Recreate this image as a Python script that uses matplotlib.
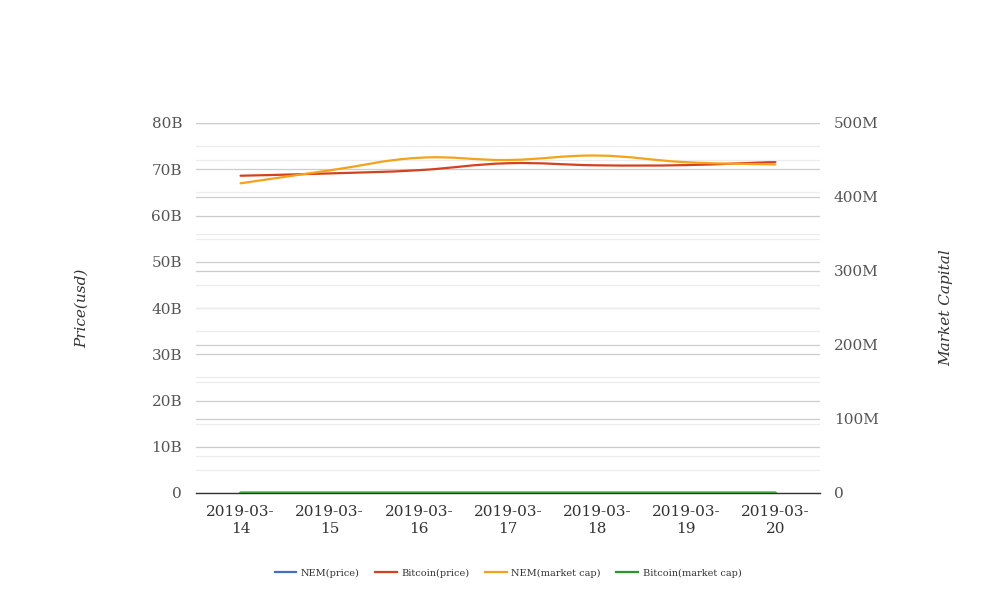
import matplotlib
matplotlib.use("Agg")
import matplotlib.pyplot as plt
from matplotlib.path import Path
from matplotlib.patches import PathPatch
from matplotlib.lines import Line2D
from matplotlib.ticker import FuncFormatter, MultipleLocator
import numpy as np

plt.rcParams['font.family'] = ['DejaVu Serif']

dates = ["2019-03-\n14", "2019-03-\n15", "2019-03-\n16", "2019-03-\n17",
         "2019-03-\n18", "2019-03-\n19", "2019-03-\n20"]
nem_price = [0.05, 0.05, 0.05, 0.05, 0.05, 0.05, 0.05]                 # left axis (usd)
bitcoin_price = [68.6e9, 69.1e9, 69.8e9, 71.3e9, 70.85e9, 70.9e9, 71.6e9]  # left axis
nem_mcap = [418.5e6, 436e6, 453e6, 450e6, 456e6, 447e6, 444e6]          # right axis
bitcoin_mcap = [3900, 3920, 3960, 3990, 3980, 3990, 4010]               # left axis

C_BLUE = "#4470c4"
C_RED = "#d4411f"
C_ORANGE = "#f5a21b"
C_GREEN = "#2b982b"


def smooth_line(ax, xs, ys, color, lw=1.6, z=3):
    xs = np.asarray(xs, float)
    ys = np.asarray(ys, float)
    n = len(xs)
    verts = [(xs[0], ys[0])]
    codes = [Path.MOVETO]
    t = 0.2
    for i in range(n - 1):
        p0 = (xs[max(i - 1, 0)], ys[max(i - 1, 0)])
        p1 = (xs[i], ys[i])
        p2 = (xs[i + 1], ys[i + 1])
        p3 = (xs[min(i + 2, n - 1)], ys[min(i + 2, n - 1)])
        c1 = (p1[0] + (p2[0] - p0[0]) * t, p1[1] + (p2[1] - p0[1]) * t)
        c2 = (p2[0] - (p3[0] - p1[0]) * t, p2[1] - (p3[1] - p1[1]) * t)
        verts += [c1, c2, p2]
        codes += [Path.CURVE4] * 3
    patch = PathPatch(Path(verts, codes), fill=False, edgecolor=color,
                      lw=lw, zorder=z, capstyle='round')
    ax.add_patch(patch)


fig = plt.figure(figsize=(10.08, 6.16), dpi=100)
ax = fig.add_axes([196 / 1008, 1 - 493 / 616, 624 / 1008, 370 / 616])
ax2 = ax.twinx()

x = np.arange(len(dates))
ax.set_xlim(-0.5, len(dates) - 0.5)
ax.set_ylim(0, 80e9)
ax2.set_ylim(0, 500e6)

# grids
ax.yaxis.set_major_locator(MultipleLocator(10e9))
ax.yaxis.set_minor_locator(MultipleLocator(5e9))
ax2.yaxis.set_major_locator(MultipleLocator(100e6))
ax2.yaxis.set_minor_locator(MultipleLocator(50e6))
for a in (ax, ax2):
    a.grid(True, which='major', axis='y', color='#cccccc', lw=0.9, zorder=0)
    a.grid(True, which='minor', axis='y', color='#ececec', lw=0.9, zorder=0)
    a.set_axisbelow(True)
    for s in a.spines.values():
        s.set_visible(False)
    a.tick_params(which='both', length=0)
ax.spines['bottom'].set_visible(True)
ax.spines['bottom'].set_color('#333333')
ax.spines['bottom'].set_linewidth(1.0)
ax.spines['bottom'].set_zorder(2)

ax.yaxis.set_major_formatter(FuncFormatter(lambda v, p: "0" if v == 0 else f"{v / 1e9:.0f}B"))
ax2.yaxis.set_major_formatter(FuncFormatter(lambda v, p: "0" if v == 0 else f"{v / 1e6:.0f}M"))
ax.tick_params(axis='y', labelsize=11, labelcolor='#555555', pad=10)
ax2.tick_params(axis='y', labelsize=11, labelcolor='#555555', pad=10)
ax.set_xticks(x)
ax.set_xticklabels(dates)
ax.tick_params(axis='x', labelsize=11, labelcolor='#333333', pad=9)

ax.set_ylabel("Price(usd)", fontsize=11, style='italic', color='#333333')
ax.yaxis.set_label_coords((89 - 196) / 624, 0.5)
ax2.set_ylabel("Market Capital", fontsize=11, style='italic', color='#333333')
ax2.yaxis.set_label_coords((939 - 196) / 624, 0.5)

ax2.set_zorder(ax.get_zorder() + 1)
ax2.patch.set_visible(False)

smooth_line(ax, x, nem_price, C_BLUE)
smooth_line(ax, x, bitcoin_price, C_RED)
smooth_line(ax2, x, nem_mcap, C_ORANGE)
smooth_line(ax, x, bitcoin_mcap, C_GREEN, lw=2.2, z=4)

handles = [Line2D([], [], color=c, lw=1.6) for c in (C_BLUE, C_RED, C_ORANGE, C_GREEN)]
fig.legend(handles, ["NEM(price)", "Bitcoin(price)", "NEM(market cap)", "Bitcoin(market cap)"],
           loc='center', bbox_to_anchor=(508 / 1008, 1 - 573 / 616), ncol=4, frameon=False,
           fontsize=7, handlelength=2.2, columnspacing=1.6, handletextpad=0.5,
           labelcolor='#333333')

fig.savefig("out.png", dpi=100)
